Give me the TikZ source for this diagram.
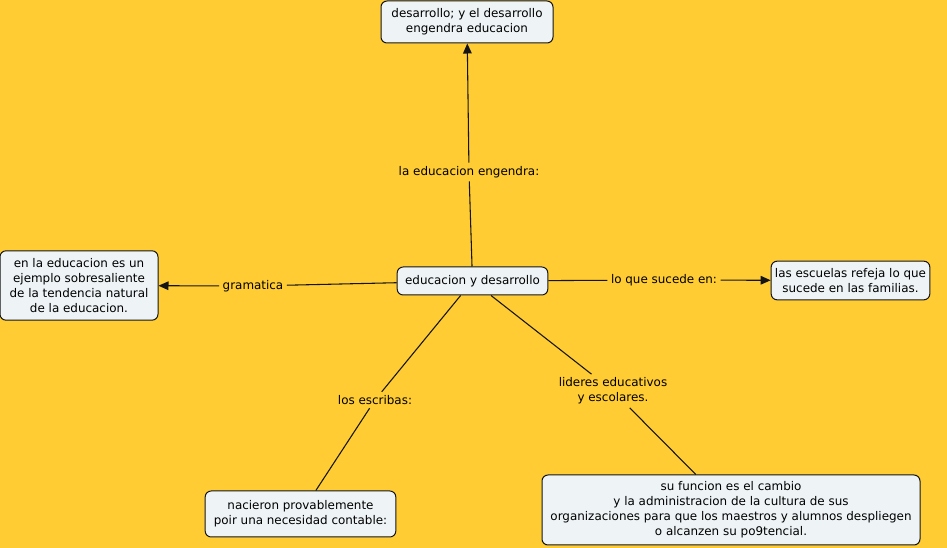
\documentclass[tikz,border=0pt]{standalone}
\usepackage{fontspec}
\setmainfont{DejaVu Sans}
\usepackage{tikz}
\usetikzlibrary{arrows.meta, positioning}
\definecolor{mybg}{RGB}{255,204,51}
\definecolor{myfill}{RGB}{238,243,246}
\definecolor{mydark}{RGB}{20,20,20}
\tikzset{
  concept/.style={rectangle, draw=mydark, fill=myfill, align=center,
    font=\fontsize{8.95}{11.25}\selectfont, rounded corners=4.5pt,
    line width=0.75pt, inner sep=2pt},
  linklabel/.style={align=center, font=\fontsize{8.95}{11.25}\selectfont,
    inner sep=2.5pt},
  arrow/.style={-{Triangle[length=7.5pt,width=6.5pt]}, line width=0.8pt, color=mydark},
  line/.style={line width=0.8pt, color=mydark}
}

\begin{document}
\begin{tikzpicture}[x=0.75pt, y=-0.75pt]
  \useasboundingbox[fill=mybg] (0,0) rectangle (947,548);

  % concepts
  \node[concept, minimum width=129pt, minimum height=31.5pt] (dev) at (467,22)
    {desarrollo; y el desarrollo\\engendra educacion};
  \node[concept, minimum width=118.5pt, minimum height=52pt] (gram) at (79,285.5)
    {en la educacion es un\\ejemplo sobresaliente\\de la tendencia natural\\de la educacion.};
  \node[concept, minimum width=113pt, minimum height=21pt] (main) at (472.5,281)
    {educacion y desarrollo};
  \node[concept, minimum width=119pt, minimum height=29pt] (fam) at (850.5,280.5)
    {las escuelas refeja lo que\\sucede en las familias.};
  \node[concept, minimum width=143pt, minimum height=34.5pt] (cont) at (300.5,514)
    {nacieron provablemente\\poir una necesidad contable:};
  \node[concept, minimum width=283.5pt, minimum height=52.5pt] (func) at (731,510)
    {su funcion es el cambio\\y la administracion de la cultura de sus\\organizaciones para que los maestros y alumnos despliegen\\o alcanzen su po9tencial.};

  % link labels
  \node[linklabel] (engendra) at (469,172) {la educacion engendra:};
  \node[linklabel] (gramatica) at (253,286) {gramatica};
  \node[linklabel] (sucede) at (664,280) {lo que sucede en:};
  \node[linklabel] (escribas) at (375,400) {los escribas:};
  \node[linklabel] (lideres) at (613,391) {lideres educativos\\y escolares.};

  % connectors
  \draw[line] (main) -- (engendra);
  \draw[arrow] (engendra) -- (dev);
  \draw[line] (main) -- (gramatica);
  \draw[arrow] (gramatica) -- (gram);
  \draw[line] (main) -- (sucede);
  \draw[arrow] (sucede) -- (fam);
  \draw[line] (main) -- (escribas);
  \draw[line] (escribas) -- (cont);
  \draw[line] (main) -- (lideres);
  \draw[line] (lideres) -- (func);
\end{tikzpicture}
\end{document}
